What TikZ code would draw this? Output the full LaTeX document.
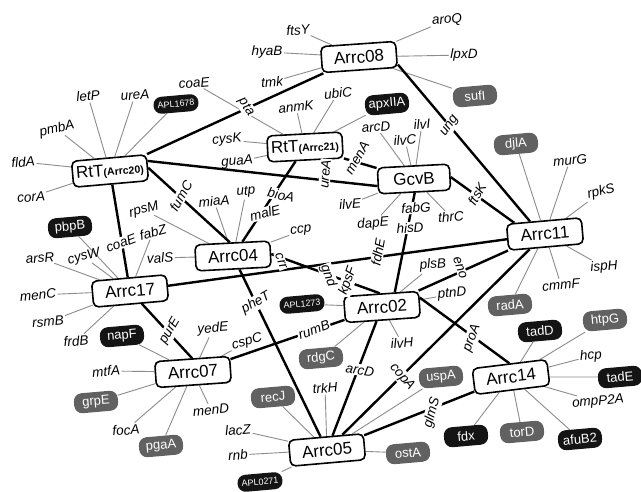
\documentclass[tikz,border=0pt]{standalone}
\usepackage{fontspec}
\setmainfont{Liberation Sans}
\usetikzlibrary{backgrounds}
\begin{document}
\begin{tikzpicture}[x=1pt,y=-1pt,
  hub/.style={draw=black, line width=1.6pt, fill=white, rounded corners=5pt, minimum width=75pt, minimum height=26pt, inner sep=2pt, font=\fontsize{17}{18}\selectfont},
  gene/.style={font=\itshape\fontsize{13.5}{14}\selectfont, inner sep=1.5pt, rotate=5},
  elab/.style={font=\itshape\fontsize{13.5}{14}\selectfont, inner sep=1pt, fill=white},
  bpill/.style={fill=black!92, text=white, rounded corners=8pt, minimum width=44pt, minimum height=20pt, inner sep=2pt, font=\fontsize{13}{13}\selectfont, rotate=5},
  gpill/.style={bpill, fill=black!62},
  apl/.style={bpill, minimum width=45pt, minimum height=17pt, font=\fontsize{9}{9}\selectfont},
  link/.style={line width=2.4pt, black},
  sat/.style={line width=0.9pt, black!45},
]
\useasboundingbox (0,0) rectangle (641,492);
\newcommand{\smallpar}[1]{{\bfseries\fontsize{10.5}{11}\selectfont(#1)}}
% hubs
\node[hub, rotate=4] (A08) at (359,57) {Arrc08};
\node[hub, rotate=3] (A21) at (305,147) {RtT\smallpar{Arrc21}};
\node[hub, rotate=5] (A20) at (110,171) {RtT\smallpar{Arrc20}};
\node[hub, rotate=3, minimum width=72pt] (GcvB) at (414,179) {GcvB};
\node[hub, rotate=3] (A04) at (233,256) {Arrc04};
\node[hub, rotate=5] (A11) at (545,234) {Arrc11};
\node[hub, rotate=5] (A17) at (130,291) {Arrc17};
\node[hub, rotate=4] (A02) at (382,307) {Arrc02};
\node[hub, rotate=4] (A07) at (193,372) {Arrc07};
\node[hub, rotate=7] (A14) at (511,377) {Arrc14};
\node[hub, rotate=5] (A05) at (327,450) {Arrc05};
% edge labels
\node[elab, rotate=-56] (lpta) at (246,107) {pta};
\node[elab, rotate=85] (lureA) at (325,174) {ureA};
\node[elab, rotate=60] (lfumC) at (181,196) {fumC};
\node[elab, rotate=20] (lcoaE) at (121,243) {coaE};
\node[elab, rotate=60] (lmenA) at (357,158) {menA};
\node[elab, rotate=-12] (lbioA) at (281,195) {bioA};
\node[elab, rotate=15] (lmalE) at (265,213) {malE};
\node[elab, rotate=55] (lung) at (450,126) {ung};
\node[elab, rotate=60] (lftsK) at (477,194) {ftsK};
\node[elab, rotate=3] (lfabG) at (416,208) {fabG};
\node[elab, rotate=3] (lhisD) at (410,228) {hisD};
\node[elab, rotate=80] (lfdhE) at (378,252) {fdhE};
\node[elab, rotate=-70] (lcrr) at (281,261) {crr};
\node[elab, rotate=-70] (lgnd) at (328,276) {gnd};
\node[elab, rotate=70] (lkpsF) at (348,281) {kpsF};
\node[elab, rotate=-70] (leno) at (460,268) {eno};
\node[elab, rotate=60] (lpurE) at (170,331) {purE};
\node[elab, rotate=20] (lrumB) at (314,330) {rumB};
\node[elab, rotate=30] (lpheT) at (256,303) {pheT};
\node[elab, rotate=-10] (larcD) at (360,370) {arcD};
\node[elab, rotate=-50] (lcopA) at (402,377) {copA};
\node[elab, rotate=70] (lproA) at (472,338) {proA};
\node[elab, rotate=75] (lglmS) at (432,413) {glmS};
% satellites Arrc08
\node[gene] (ftsY) at (298,30) {ftsY};
\node[gene, rotate=-5] (hyaB) at (267,52) {hyaB};
\node[gene] (tmk) at (272,82) {tmk};
\node[gene] (aroQ) at (447,20) {aroQ};
\node[gene, rotate=-5] (lpxD) at (464,55) {lpxD};
\node[gpill] (sufI) at (475,96) {sufI};
% Arrc21
\node[gene] (coaE) at (194,83) {coaE};
\node[gene] (anmK) at (296,107) {anmK};
\node[gene] (cysK) at (227,140) {cysK};
\node[gene] (guaA) at (237,162) {guaA};
\node[gene] (ubiC) at (338,93) {ubiC};
\node[bpill] (apxIIA) at (387,104) {apxIIA};
% Arrc20
\node[gene] (letP) at (88,96) {letP};
\node[gene] (ureA) at (135,95) {ureA};
\node[apl] (APL1678) at (176,104) {APL1678};
\node[gene, rotate=8] (pmbA) at (57,129) {pmbA};
\node[gene] (fldA) at (23,162) {fldA};
\node[gene] (corA) at (31,197) {corA};
% GcvB
\node[gene] (arcD) at (376,127) {arcD};
\node[gene] (ilvC) at (405,140) {ilvC};
\node[gene] (ilvI) at (422,124) {ilvI};
\node[gene, rotate=0] (ilvE) at (350,204) {ilvE};
\node[gene] (dapE) at (373,224) {dapE};
\node[gene] (thrC) at (451,217) {thrC};
% Arrc04
\node[gene, rotate=10] (rpsM) at (144,210) {rpsM};
\node[gene] (miaA) at (214,201) {miaA};
\node[gene, rotate=0] (utp) at (246,192) {utp};
\node[gene] (ccp) at (301,231) {ccp};
\node[gene] (valS) at (160,258) {valS};
% Arrc17
\node[bpill] (pbpB) at (70,227) {pbpB};
\node[gene] (arsR) at (40,258) {arsR};
\node[gene, rotate=10] (cysW) at (84,257) {cysW};
\node[gene, rotate=10] (fabZ) at (153,232) {fabZ};
\node[gene, rotate=0] (menC) at (38,295) {menC};
\node[gene] (rsmB) at (48,322) {rsmB};
\node[gene] (frdB) at (76,341) {frdB};
% Arrc07
\node[bpill] (napF) at (122,336) {napF};
\node[gene, rotate=0] (mtfA) at (106,371) {mtfA};
\node[gpill] (grpE) at (96,402) {grpE};
\node[gene] (focA) at (126,430) {focA};
\node[gpill] (pgaA) at (161,446) {pgaA};
\node[gene] (yedE) at (213,329) {yedE};
\node[gene, rotate=10] (cspC) at (247,342) {cspC};
\node[gene] (menD) at (211,410) {menD};
% Arrc02
\node[apl] (APL1273) at (302,304) {APL1273};
\node[gene] (plsB) at (433,265) {plsB};
\node[gene] (ptnD) at (452,294) {ptnD};
\node[gene, rotate=0] (ilvH) at (402,343) {ilvH};
\node[gpill] (rdgC) at (321,358) {rdgC};
% Arrc14
\node[bpill] (tadD) at (540,331) {tadD};
\node[gpill] (htpG) at (605,320) {htpG};
\node[gene] (hcp) at (591,356) {hcp};
\node[bpill] (tadE) at (620,377) {tadE};
\node[gene] (ompP2A) at (598,402) {ompP2A};
\node[bpill] (afuB2) at (580,439) {afuB2};
\node[gpill] (torD) at (522,432) {torD};
\node[bpill] (fdx) at (466,436) {fdx};
% Arrc05
\node[gpill] (recJ) at (273,397) {recJ};
\node[gene] (lacZ) at (238,430) {lacZ};
\node[gene, rotate=0] (rnb) at (238,455) {rnb};
\node[apl] (APL0271) at (260,482) {APL0271};
\node[gene] (trkH) at (325,388) {trkH};
\node[gpill] (uspA) at (441,377) {uspA};
\node[gpill] (ostA) at (408,453) {ostA};
% Arrc11
\node[gpill] (djlA) at (516,144) {djlA};
\node[gene] (murG) at (570,160) {murG};
\node[gene, rotate=10] (rpkS) at (601,192) {rpkS};
\node[gene] (ispH) at (604,267) {ispH};
\node[gene] (cmmF) at (561,285) {cmmF};
\node[gpill] (radA) at (510,305) {radA};

\begin{scope}[on background layer]
\fill[white] (0,0) rectangle (641,492);
% satellite lines
\foreach \h/\s in {A08/ftsY,A08/hyaB,A08/tmk,A08/aroQ,A08/lpxD,A08/sufI,
  A21/coaE,A21/anmK,A21/cysK,A21/guaA,A21/ubiC,A21/apxIIA,
  A20/letP,A20/ureA,A20/APL1678,A20/pmbA,A20/fldA,A20/corA,
  GcvB/arcD,GcvB/ilvC,GcvB/ilvI,GcvB/ilvE,GcvB/dapE,GcvB/thrC,
  A04/rpsM,A04/miaA,A04/utp,A04/ccp,A04/valS,
  A17/pbpB,A17/arsR,A17/cysW,A17/fabZ,A17/menC,A17/rsmB,A17/frdB,
  A07/napF,A07/mtfA,A07/grpE,A07/focA,A07/pgaA,A07/yedE,A07/cspC,A07/menD,
  A02/APL1273,A02/plsB,A02/ptnD,A02/ilvH,A02/rdgC,
  A14/tadD,A14/htpG,A14/hcp,A14/tadE,A14/ompP2A,A14/afuB2,A14/torD,A14/fdx,
  A05/recJ,A05/lacZ,A05/rnb,A05/APL0271,A05/trkH,A05/uspA,A05/ostA,
  A11/djlA,A11/murG,A11/rpkS,A11/ispH,A11/cmmF,A11/radA}
  {\draw[sat] (\h) -- (\s);}
% hub links
\draw[link] (A20) -- (A08);
\draw[link] (A20.10) -- (GcvB.188);
\draw[link] (A20.east) -- (A04.100);
\draw[link] (A20) -- (A17);
\draw[link] (A21) -- (GcvB);
\draw[link] (A21) -- (A04);
\draw[link] (A08.-15) -- (A11.135);
\draw[link] (GcvB.east) -- (A11.155);
\draw[link] (GcvB.south) -- (A02.45);
\draw[link] (A17) -- (A11);
\draw[link] (A04.east) -- (A02.95);
\draw[link] (A02) -- (A11);
\draw[link] (A17.-52) -- (A07.north);
\draw[link] (A07) -- (A02);
\draw[link] (A04) -- (A05);
\draw[link] (A02) -- (A05);
\draw[link] (A11) -- (A05);
\draw[link] (A02.10) -- (A14.north);
\draw[link] (A05) -- (A14);
\end{scope}
\end{tikzpicture}
\end{document}
